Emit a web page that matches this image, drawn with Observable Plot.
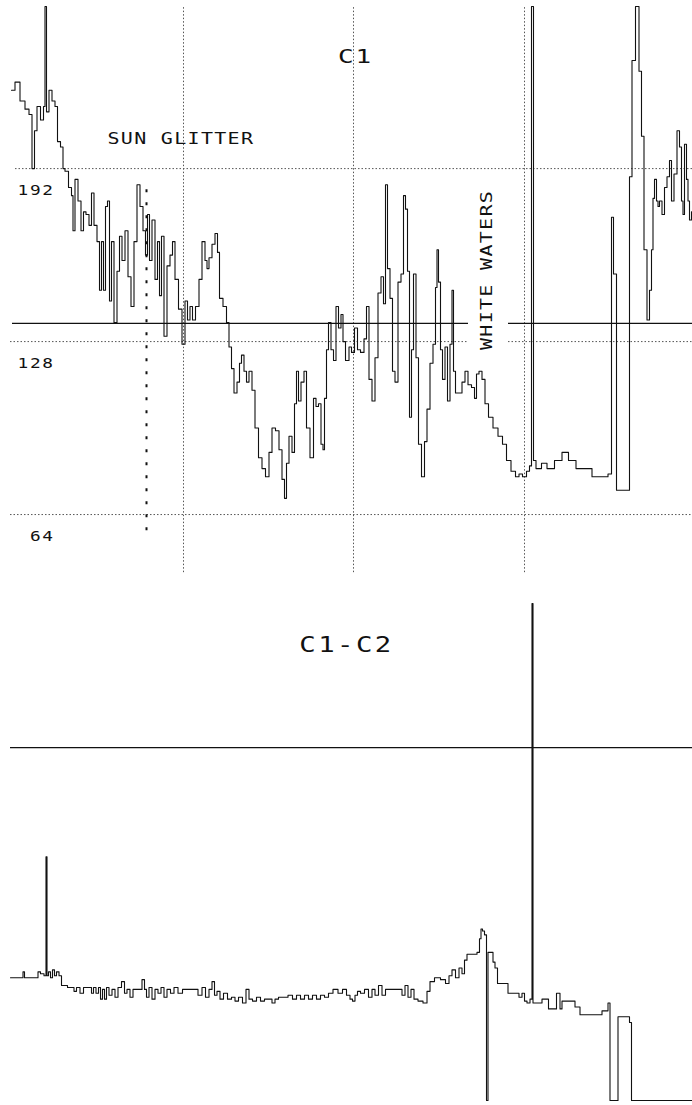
<!DOCTYPE html>
<html><head><meta charset="utf-8">
<script src="https://cdn.jsdelivr.net/npm/d3@7"></script>
<script src="https://cdn.jsdelivr.net/npm/@observablehq/plot@0.6"></script>
<style>
body{margin:0;background:#fff;}
#chart{width:692px;}
#chart svg{display:block;}
</style></head><body><div id="chart"></div>
<script>
// ---- C1 channel (digital counts) along the scan (pixel column) ----
const c1X = [11,12,17,22,27,30,33,35,38,42,44,45,47,50,53,56,58,62,63,66,70,72,73,76,79,82,84,87,90,92,95,98,100,102,104,106,108,110,112,115,118,120,123,126,129,132,135,138,141,144,146,148,150,153,156,158,160,162,165,168,171,173,176,180,183,186,188,191,193,197,200,203,206,207,210,213,216,218,220,225,227,230,232,235,238,240,242,245,247,250,253,256,260,263,267,270,273,277,280,283,285,287,290,293,295,297,299,302,305,307,312,314,317,319,322,323,325,327,329,332,334,337,339,342,343,347,350,352,356,358,362,365,367,370,373,376,379,382,384,386,388,391,393,396,399,402,404,406,408,410,412,414,417,419,423,425,428,431,434,436,437,439,441,443,446,448,451,452,454,456,460,463,466,469,473,475,477,480,483,486,490,495,500,504,508,513,517,520,524,528,530,532,534,537,545,548,560,563,573,578,605,610,612,614,618,628,630,633,637,640,642,645,648,650,652,653,655,657,658,660,663,665,668,670,672,675,678,680,682,683,685,687,688,690,692];
const c1V = [221,221,224,217,214,212,192,206,215,210,215,252,213,221,217,215,202,200,192,191,185,182,169,188,180,169,176,175,171,183,171,165,147,165,147,178,180,143,165,135,154,167,158,169,152,141,165,186,178,169,160,175,158,173,151,165,145,167,130,156,160,165,151,140,127,143,136,141,136,141,151,165,158,155,159,164,168,161,144,141,135,126,118,109,113,120,123,117,113,117,110,96,85,81,78,87,96,95,88,77,70,83,93,87,105,117,106,113,117,96,85,107,104,105,90,88,107,125,135,125,121,141,133,138,128,121,126,124,133,125,124,129,141,114,106,122,146,152,142,186,155,144,117,113,150,153,182,177,154,100,125,153,122,90,78,91,103,120,127,148,162,150,125,114,126,106,127,147,117,109,109,113,117,112,111,107,116,117,114,105,100,96,93,90,84,80,78,79,78,80,82,252,84,81,83,81,84,87,84,81,78,79,174,153,73,73,189,232,252,228,204,162,136,147,162,181,188,180,178,180,175,185,189,195,180,190,206,200,180,175,201,188,180,173,176];

// ---- C1-C2 difference along the same scan ----
const diffX = [10,22,23,25,37,38,42,45,46,47,49,51,53,55,57,60,62,72,75,77,82,84,90,92,94,97,99,101,103,105,107,110,113,116,119,123,125,128,131,134,140,143,145,147,150,153,156,159,162,165,168,172,175,180,184,187,195,200,203,207,210,213,215,218,221,225,229,233,236,240,244,247,250,254,258,262,266,270,273,276,280,285,290,294,298,302,306,310,314,318,322,326,330,335,340,344,348,351,353,356,358,362,366,370,373,376,380,383,387,393,400,403,406,409,412,415,420,425,428,431,437,443,447,450,453,457,460,463,465,468,475,478,480,481,483,485,487,488,492,493,496,498,505,510,517,520,523,525,528,531,532,533,540,543,546,550,555,557,559,560,563,573,576,583,600,603,607,608,609,610,617,618,628,630,632,692];
const diffV = [63,63,66,63,63,66,65,64,125,64,66,63,67,64,66,64,59,58,56,58,55,58,58,55,58,55,58,52,57,52,58,54,57,53,58,61,55,57,53,57,57,62,57,53,58,52,57,55,58,53,57,55,58,55,57,57,57,54,58,53,57,61,54,56,52,55,52,53,51,53,50,57,52,51,53,51,52,52,50,52,53,53,54,52,54,52,54,52,54,52,54,53,55,57,55,57,54,52,51,54,56,55,57,53,57,54,59,54,57,57,57,54,59,53,57,52,51,50,56,61,63,62,60,64,67,63,68,65,72,75,75,76,83,88,87,85,0,76,76,71,68,60,60,55,55,53,55,51,50,52,255,50,50,52,52,47,47,55,55,47,51,51,48,44,44,46,46,50,50,0,0,43,43,40,0,0];

// ---- reference lines & labels ----
const yTicks = [64, 128, 192];
const yTickLabels = ["64", "128", "192"];
const xGrid = [183, 353, 524];
const glitterX = 146;        // dash-dot marker of the sun-glitter zone
const c1Threshold = 134.7;   // solid reference level, C1
const diffThreshold = 181;   // solid reference level, C1-C2

const FONT = "'DejaVu Sans Mono', 'Liberation Mono', monospace";
const INK = "#111";
const GRID = "#555";

// top panel --------------------------------------------------------------
const gridSegs = [
  {v: 192, a: 15, b: 692},
  {v: 128, a: 10, b: 468}, {v: 128, a: 508, b: 692},
  {v: 64, a: 10, b: 692}
];
const threshSegs = [{v: c1Threshold, a: 12, b: 468}, {v: c1Threshold, a: 508, b: 692}];

const c1Data = c1X.map((x, i) => ({x, v: c1V[i]})).filter(d => d.v != null);
const diffData = diffX.map((x, i) => ({x, v: diffV[i]})).filter(d => d.v != null);

const topPlot = Plot.plot({
  width: 692, height: 580,
  margin: 0,
  x: {domain: [0, 692], axis: null},
  y: {domain: [39.6, 254.2], axis: null},
  style: {background: "#fff", fontFamily: FONT, overflow: "visible"},
  marks: [
    Plot.ruleY(gridSegs, {y: "v", x1: "a", x2: "b", stroke: GRID, strokeWidth: 1, strokeDasharray: "1.5,2"}),
    Plot.ruleX(xGrid, {x: d => d, y1: 42.5, y2: 252, stroke: GRID, strokeWidth: 1, strokeDasharray: "1.5,2"}),
    Plot.ruleX([glitterX], {x: d => d, y1: 58, y2: 186, stroke: INK, strokeWidth: 2, strokeDasharray: "3,10"}),
    Plot.ruleY(threshSegs, {y: "v", x1: "a", x2: "b", stroke: INK, strokeWidth: 1.3}),
    Plot.line(c1Data, {x: "x", y: "v", curve: "step", stroke: INK, strokeWidth: 1.1}),
    Plot.text(yTicks, {x: 54, y: d => d, text: (d, i) => yTickLabels[i], textAnchor: "end", lineAnchor: "bottom", dy: 26, fontSize: 14, fill: INK}),
    Plot.text(["C1"], {x: 355, y: 231.2, text: d => d, textAnchor: "middle", lineAnchor: "bottom", fontSize: 20, fill: INK}),
    Plot.text(["SUN GLITTER"], {x: 107, y: 201.2, text: d => d, textAnchor: "start", lineAnchor: "bottom", fontSize: 16, fill: INK}),
    Plot.text(["WHITE WATERS"], {x: 491, y: 154.5, text: d => d, rotate: -90, textAnchor: "middle", lineAnchor: "middle", fontSize: 16, fill: INK})
  ]
});

// bottom panel -----------------------------------------------------------
const bottomPlot = Plot.plot({
  width: 692, height: 525,
  margin: 0,
  x: {domain: [0, 692], axis: null},
  y: {domain: [-2.57, 266.8], axis: null},
  style: {background: "#fff", fontFamily: FONT, overflow: "visible"},
  marks: [
    Plot.ruleY([diffThreshold], {y: d => d, x1: 10, x2: 692, stroke: INK, strokeWidth: 1.3}),
    Plot.line(diffData, {x: "x", y: "v", curve: "step", stroke: INK, strokeWidth: 1.1}),
    Plot.text(["C1-C2"], {x: 346, y: 229.9, text: d => d, textAnchor: "middle", lineAnchor: "bottom", fontSize: 21, fill: INK})
  ]
});

const host = document.getElementById("chart");
host.appendChild(topPlot);
host.appendChild(bottomPlot);

// plotter-style lettering: wide glyphs (horizontal stretch) + a little tracking
const lettering = {
  "C1": {s: 1.3, ls: "0.07em"},
  "C1-C2": {s: 1.3, ls: "0.09em"},
  "SUN GLITTER": {s: 1.25, ls: "0.065em"},
  "WHITE WATERS": {s: 1.25, ls: "0.065em"}
};
d3.selectAll("#chart text").each(function () {
  const o = lettering[this.textContent] || {s: 1.27, ls: "0.09em"};
  this.style.letterSpacing = o.ls;
  const tf = this.getAttribute("transform") || "";
  const x = +this.getAttribute("x") || 0, y = +this.getAttribute("y") || 0;
  this.removeAttribute("x"); this.removeAttribute("y");
  this.setAttribute("transform", `${tf} translate(${x},${y}) scale(${o.s},1)`);
});
</script>
</body></html>
